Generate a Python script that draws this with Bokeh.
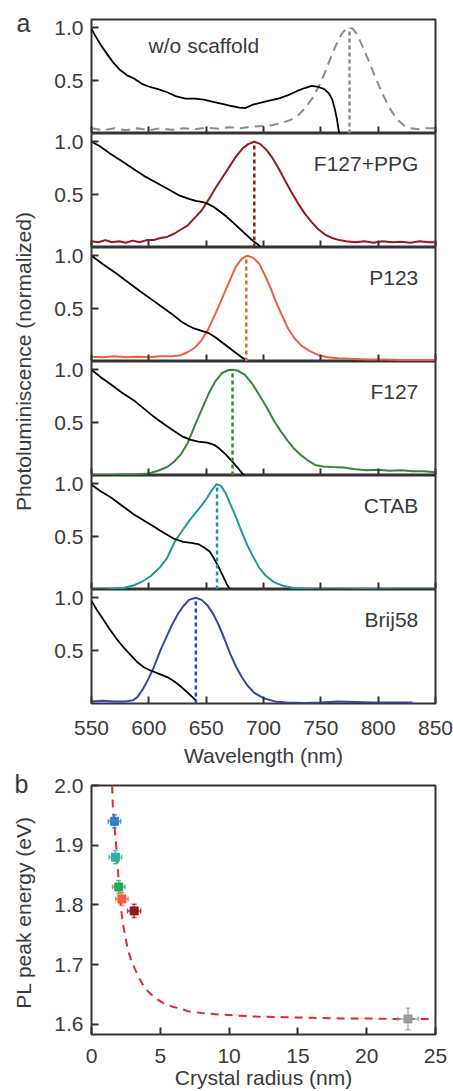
from math import pi
from bokeh.plotting import figure
from bokeh.layouts import column, row
from bokeh.models import (Label, FixedTicker, Range1d, ColumnDataSource,
                          PrintfTickFormatter, CustomLabelingPolicy)
from bokeh.embed import file_html
from bokeh.resources import INLINE

# ---------------- panel a data ----------------
sample_names = ["w/o scaffold", "F127+PPG", "P123", "F127", "CTAB", "Brij58"]
peak_wl = [775, 692, 685, 673, 659.5, 641]
peak_height = [1.0, 1.0, 1.0, 1.0, 1.0, 1.0]

wl_abs_wo = [550, 553, 558, 563, 569, 575, 581, 587, 594, 601, 608, 616, 624, 632, 640, 648, 656, 664, 672, 679, 684, 690, 697, 705, 713, 721, 729, 736, 742, 748, 753, 757, 760, 762, 764, 766]
abs_wo = [0.99, 0.93, 0.84, 0.76, 0.67, 0.60, 0.55, 0.52, 0.47, 0.44, 0.42, 0.39, 0.35, 0.33, 0.33, 0.32, 0.30, 0.28, 0.26, 0.245, 0.24, 0.27, 0.29, 0.31, 0.33, 0.36, 0.40, 0.43, 0.45, 0.44, 0.42, 0.38, 0.32, 0.24, 0.14, 0.0]
wl_pl_wo = [550, 560, 570, 580, 590, 600, 610, 620, 630, 640, 650, 660, 670, 680, 690, 700, 708, 716, 724, 731, 737, 743, 748, 753, 758, 763, 768, 772, 775, 778, 782, 787, 792, 798, 804, 810, 816, 822, 828, 835, 842, 850]
pl_wo = [0.05, 0.03, 0.05, 0.03, 0.05, 0.03, 0.05, 0.035, 0.05, 0.04, 0.055, 0.045, 0.06, 0.05, 0.065, 0.07, 0.08, 0.10, 0.13, 0.18, 0.25, 0.34, 0.44, 0.56, 0.70, 0.83, 0.94, 0.99, 1.0, 0.99, 0.93, 0.81, 0.68, 0.52, 0.37, 0.24, 0.14, 0.08, 0.05, 0.04, 0.05, 0.05]

wl_abs_ppg = [550, 557, 566, 576, 587, 597, 607, 617, 627, 635, 641, 647, 652, 657, 662, 668, 674, 680, 686, 691, 695, 697]
abs_ppg = [1.0, 0.96, 0.89, 0.82, 0.74, 0.67, 0.61, 0.55, 0.49, 0.46, 0.44, 0.43, 0.41, 0.38, 0.34, 0.29, 0.23, 0.17, 0.11, 0.06, 0.03, 0.01]
wl_pl_ppg = [550, 556, 562, 568, 574, 580, 586, 592, 598, 604, 610, 616, 622, 628, 634, 640, 646, 652, 658, 664, 670, 676, 682, 687, 692, 697, 702, 707, 712, 718, 724, 730, 736, 742, 748, 754, 760, 766, 772, 780, 788, 796, 804, 812, 820, 828, 836, 844, 850]
pl_ppg = [0.06, 0.05, 0.07, 0.05, 0.06, 0.045, 0.065, 0.05, 0.07, 0.07, 0.09, 0.10, 0.13, 0.17, 0.21, 0.28, 0.35, 0.45, 0.56, 0.66, 0.76, 0.86, 0.94, 0.98, 1.0, 0.98, 0.93, 0.86, 0.77, 0.65, 0.53, 0.42, 0.32, 0.24, 0.17, 0.12, 0.09, 0.07, 0.06, 0.05, 0.06, 0.045, 0.06, 0.05, 0.055, 0.045, 0.06, 0.05, 0.05]

wl_abs_p123 = [550, 560, 572, 583, 593, 602, 611, 620, 628, 634, 640, 646, 652, 658, 664, 670, 676, 681, 685]
abs_p123 = [1.0, 0.92, 0.83, 0.74, 0.66, 0.59, 0.52, 0.45, 0.38, 0.34, 0.31, 0.29, 0.27, 0.23, 0.18, 0.13, 0.08, 0.04, 0.01]
wl_pl_p123 = [550, 560, 570, 580, 590, 600, 610, 620, 628, 634, 640, 646, 652, 658, 664, 670, 676, 681, 686, 691, 696, 701, 706, 711, 716, 721, 727, 733, 740, 748, 756, 765, 775, 790, 805, 820, 835, 850]
pl_p123 = [0.045, 0.04, 0.05, 0.04, 0.045, 0.04, 0.05, 0.05, 0.06, 0.09, 0.13, 0.2, 0.31, 0.45, 0.6, 0.75, 0.9, 0.97, 1.0, 0.98, 0.93, 0.82, 0.70, 0.56, 0.44, 0.32, 0.22, 0.15, 0.10, 0.06, 0.04, 0.03, 0.025, 0.02, 0.02, 0.015, 0.015, 0.015]

wl_abs_f127 = [550, 558, 567, 577, 587, 596, 605, 614, 622, 629, 636, 643, 651, 657, 662, 667, 672, 677, 680, 683]
abs_f127 = [1.0, 0.93, 0.86, 0.78, 0.71, 0.63, 0.55, 0.48, 0.42, 0.37, 0.34, 0.32, 0.31, 0.29, 0.25, 0.2, 0.14, 0.08, 0.04, 0.0]
wl_pl_f127 = [550, 570, 590, 600, 608, 616, 622, 628, 634, 640, 646, 652, 658, 664, 669, 673, 678, 684, 690, 697, 703, 709, 715, 721, 727, 733, 739, 745, 752, 760, 770, 780, 790, 800, 810, 820, 830, 840, 850]
pl_f127 = [0.005, 0.006, 0.012, 0.02, 0.045, 0.08, 0.13, 0.2, 0.31, 0.47, 0.62, 0.77, 0.89, 0.97, 0.995, 1.0, 0.99, 0.95, 0.87, 0.75, 0.64, 0.52, 0.42, 0.33, 0.25, 0.19, 0.14, 0.10, 0.085, 0.08, 0.075, 0.06, 0.05, 0.055, 0.045, 0.05, 0.04, 0.04, 0.03]

wl_abs_ctab = [550, 558, 567, 577, 587, 596, 605, 614, 622, 630, 637, 643, 648, 653, 657, 661, 665, 668, 671]
abs_ctab = [0.99, 0.93, 0.87, 0.79, 0.71, 0.65, 0.59, 0.53, 0.48, 0.45, 0.44, 0.43, 0.40, 0.36, 0.29, 0.21, 0.12, 0.05, 0.0]
wl_pl_ctab = [550, 565, 578, 587, 595, 602, 609, 616, 623, 630, 636, 642, 647, 651, 655, 659, 663, 667, 671, 675, 680, 685, 690, 696, 702, 709, 717, 726, 740, 760, 790, 820, 850]
pl_ctab = [0.0, 0.003, 0.015, 0.04, 0.08, 0.13, 0.2, 0.3, 0.46, 0.57, 0.66, 0.74, 0.81, 0.87, 0.94, 0.995, 0.98, 0.91, 0.81, 0.71, 0.57, 0.44, 0.33, 0.21, 0.13, 0.07, 0.035, 0.015, 0.005, 0.0, 0.005, 0.0, 0.0]

wl_abs_brij = [550, 555, 560, 566, 572, 578, 584, 590, 596, 602, 609, 616, 622, 628, 634, 639, 642]
abs_brij = [0.97, 0.88, 0.80, 0.70, 0.61, 0.53, 0.46, 0.39, 0.34, 0.31, 0.28, 0.25, 0.21, 0.16, 0.10, 0.05, 0.02]
wl_pl_brij = [550, 560, 570, 580, 586, 590, 595, 600, 605, 610, 615, 620, 625, 630, 635, 641, 646, 651, 656, 661, 666, 671, 676, 681, 686, 692, 700, 710, 720, 735, 750, 765, 780, 795, 810, 830]
pl_brij = [0.02, 0.025, 0.02, 0.02, 0.03, 0.06, 0.14, 0.24, 0.36, 0.5, 0.62, 0.74, 0.84, 0.92, 0.98, 1.0, 0.98, 0.93, 0.85, 0.74, 0.61, 0.47, 0.35, 0.25, 0.17, 0.10, 0.05, 0.02, 0.01, 0.005, 0.01, 0.02, 0.015, 0.01, 0.01, 0.01]

wl_ticks = [550, 600, 650, 700, 750, 800, 850]
pl_ticks = [0.5, 1.0]

# ---------------- panel b data ----------------
radius = [1.67, 1.74, 1.98, 2.21, 3.10, 23.0]
radius_err = [0.45, 0.45, 0.45, 0.45, 0.48, 0.75]
energy = [1.94, 1.88, 1.83, 1.81, 1.79, 1.609]
energy_err = [0.011, 0.011, 0.011, 0.011, 0.011, 0.018]
fit_r = [1.50, 1.55, 1.62, 1.67, 1.73, 1.79, 1.85, 1.90, 1.96, 2.02, 2.08, 2.14, 2.25, 2.38, 2.55, 2.74, 2.95, 3.21, 3.5, 3.81, 4.2, 4.64, 5.2, 5.83, 6.5, 7.02, 8.0, 9.0, 10.3, 12.0, 14.0, 16.0, 18.0, 20.0, 22.0, 25.0]
fit_e = [2.0, 1.964, 1.945, 1.931, 1.915, 1.899, 1.882, 1.866, 1.846, 1.827, 1.810, 1.794, 1.775, 1.756, 1.736, 1.718, 1.703, 1.690, 1.676, 1.663, 1.653, 1.644, 1.636, 1.630, 1.626, 1.622, 1.619, 1.617, 1.615, 1.613, 1.612, 1.611, 1.610, 1.610, 1.609, 1.609]
r_ticks = [0, 5, 10, 15, 20, 25]
e_ticks = [1.6, 1.7, 1.8, 1.9, 2.0]

# ---------------- styles ----------------
FONT = "Liberation Sans"
TXT = "#3a3a3a"
FRAME = "#333333"
FS = "21px"
pl_colors = ["#8c8c8c", "#951b1e", "#f0603f", "#2f8a3c", "#1f9a9c", "#3447ad"]
b_colors = ["#2f80cf", "#2bb3a2", "#29a65a", "#ef5f3b", "#8e1a1c", "#9a9a9a"]

abs_sets = [(wl_abs_wo, abs_wo), (wl_abs_ppg, abs_ppg), (wl_abs_p123, abs_p123),
            (wl_abs_f127, abs_f127), (wl_abs_ctab, abs_ctab), (wl_abs_brij, abs_brij)]
pl_sets = [(wl_pl_wo, pl_wo), (wl_pl_ppg, pl_ppg), (wl_pl_p123, pl_p123),
           (wl_pl_f127, pl_f127), (wl_pl_ctab, pl_ctab), (wl_pl_brij, pl_brij)]

W_SIDE = 38
W_MAIN = 415
H_TOTAL = 1091


def style(p):
    p.grid.visible = False
    p.outline_line_color = FRAME
    p.outline_line_width = 2
    p.outline_line_alpha = 1
    for ax in p.axis:
        ax.axis_line_color = None
        ax.major_tick_in = 7
        ax.major_tick_out = 0
        ax.minor_tick_line_color = None
        ax.major_tick_line_color = FRAME
        ax.major_tick_line_width = 2
        ax.major_label_text_font = FONT
        ax.major_label_text_font_size = FS
        ax.major_label_text_color = TXT
        ax.axis_label_text_font = FONT
        ax.axis_label_text_font_size = FS
        ax.axis_label_text_font_style = "normal"
        ax.axis_label_text_color = TXT


figs_a = []
for i in range(6):
    first = i == 0
    last = i == 5
    top = 19 if first else 0
    bottom = 68 if last else 0
    p = figure(width=W_MAIN, height=114 + top + bottom,
               x_range=Range1d(550, 850), y_range=Range1d(0, 1.078),
               output_backend="svg", toolbar_location=None,
               min_border_left=53, min_border_right=18,
               min_border_top=top, min_border_bottom=bottom)
    style(p)
    p.xaxis.ticker = FixedTicker(ticks=wl_ticks)
    p.yaxis.ticker = FixedTicker(ticks=pl_ticks)
    p.yaxis.formatter = PrintfTickFormatter(format="%.1f")
    p.yaxis.major_label_standoff = 8
    if last:
        p.xaxis.axis_label = "Wavelength (nm)"
        p.xaxis.major_label_standoff = 17
        p.xaxis.axis_label_standoff = 6
    else:
        p.xaxis.major_label_policy = CustomLabelingPolicy(code="return []")
        p.xaxis.major_label_text_font_size = "0px"
        p.xaxis.major_label_standoff = 0
    wa, aa = abs_sets[i]
    wp, pp = pl_sets[i]
    if first:
        p.line(wp, pp, line_color=pl_colors[i], line_width=2, line_dash="9 6")
    else:
        p.line(wp, pp, line_color=pl_colors[i], line_width=2)
    p.line(wa, aa, line_color="black", line_width=1.8)
    p.segment(x0=[peak_wl[i]], y0=[0], x1=[peak_wl[i]], y1=[peak_height[i]],
              line_color=pl_colors[i], line_width=2.5, line_dash="4 3")
    if first:
        p.add_layout(Label(x=648, y=0.83, text=sample_names[i], text_align="center",
                           text_baseline="middle", text_font=FONT, text_font_size=FS,
                           text_color=TXT))
    else:
        p.add_layout(Label(x=835, y=0.79, text=sample_names[i], text_align="right",
                           text_baseline="middle", text_font=FONT, text_font_size=FS,
                           text_color=TXT))
    figs_a.append(p)

col_h = sum(f.height for f in figs_a)

# ---------------- panel b ----------------
hb = H_TOTAL - col_h
fb = figure(width=W_MAIN, height=hb, x_range=Range1d(0, 25), y_range=Range1d(1.583, 2.0),
            output_backend="svg", toolbar_location=None,
            min_border_left=52, min_border_right=16, min_border_top=14, min_border_bottom=53)
style(fb)
fb.xaxis.ticker = FixedTicker(ticks=r_ticks)
fb.yaxis.ticker = FixedTicker(ticks=e_ticks)
fb.yaxis.formatter = PrintfTickFormatter(format="%.1f")
fb.xaxis.axis_label = "Crystal radius (nm)"
fb.xaxis.major_label_standoff = 14
fb.xaxis.axis_label_standoff = 0
fb.yaxis.major_label_standoff = 8

fb.line(fit_r, fit_e, line_color="#e8262b", line_width=2, line_dash="8 6")

src = ColumnDataSource(dict(
    r=radius, e=energy, c=b_colors,
    r_lo=[r - d for r, d in zip(radius, radius_err)],
    r_hi=[r + d for r, d in zip(radius, radius_err)],
    e_lo=[e - d for e, d in zip(energy, energy_err)],
    e_hi=[e + d for e, d in zip(energy, energy_err)],
))
eb = dict(source=src, line_color="c", line_width=1.5, line_alpha=0.75)
fb.segment(x0="r_lo", y0="e", x1="r_hi", y1="e", **eb)
fb.segment(x0="r", y0="e_lo", x1="r", y1="e_hi", **eb)
fb.scatter(x="r", y="e_lo", marker="dash", size=5, **eb)
fb.scatter(x="r", y="e_hi", marker="dash", size=5, **eb)
fb.scatter(x="r_lo", y="e", marker="dash", size=5, angle=pi / 2, **eb)
fb.scatter(x="r_hi", y="e", marker="dash", size=5, angle=pi / 2, **eb)
fb.scatter(x="r", y="e", source=src, marker="square", size=8, fill_color="c", line_color="c")

# ---------------- side strip with panel letters and y titles ----------------
side = figure(width=W_SIDE, height=H_TOTAL, x_range=Range1d(0, W_SIDE), y_range=Range1d(0, H_TOTAL),
              output_backend="svg", toolbar_location=None, min_border=0,
              x_axis_location=None, y_axis_location=None)
side.grid.visible = False
side.outline_line_color = None


def side_label(text, x, y_from_top, size=FS, angle=0.0):
    side.add_layout(Label(x=x, y=H_TOTAL - y_from_top, text=text, angle=angle,
                          text_align="center", text_baseline="middle",
                          text_font=FONT, text_font_size=size, text_color=TXT))


side_label("a", 23, 22, "25px")
side_label("Photoluminiscence (normalized)", 23, 361, FS, pi / 2)
side_label("b", 21, 783, "25px")
side_label("PL peak energy (eV)", 23, 912, FS, pi / 2)

layout = row(side, column(*figs_a, fb, spacing=0), spacing=0)
open("out.html", "w").write(file_html(layout, INLINE))
